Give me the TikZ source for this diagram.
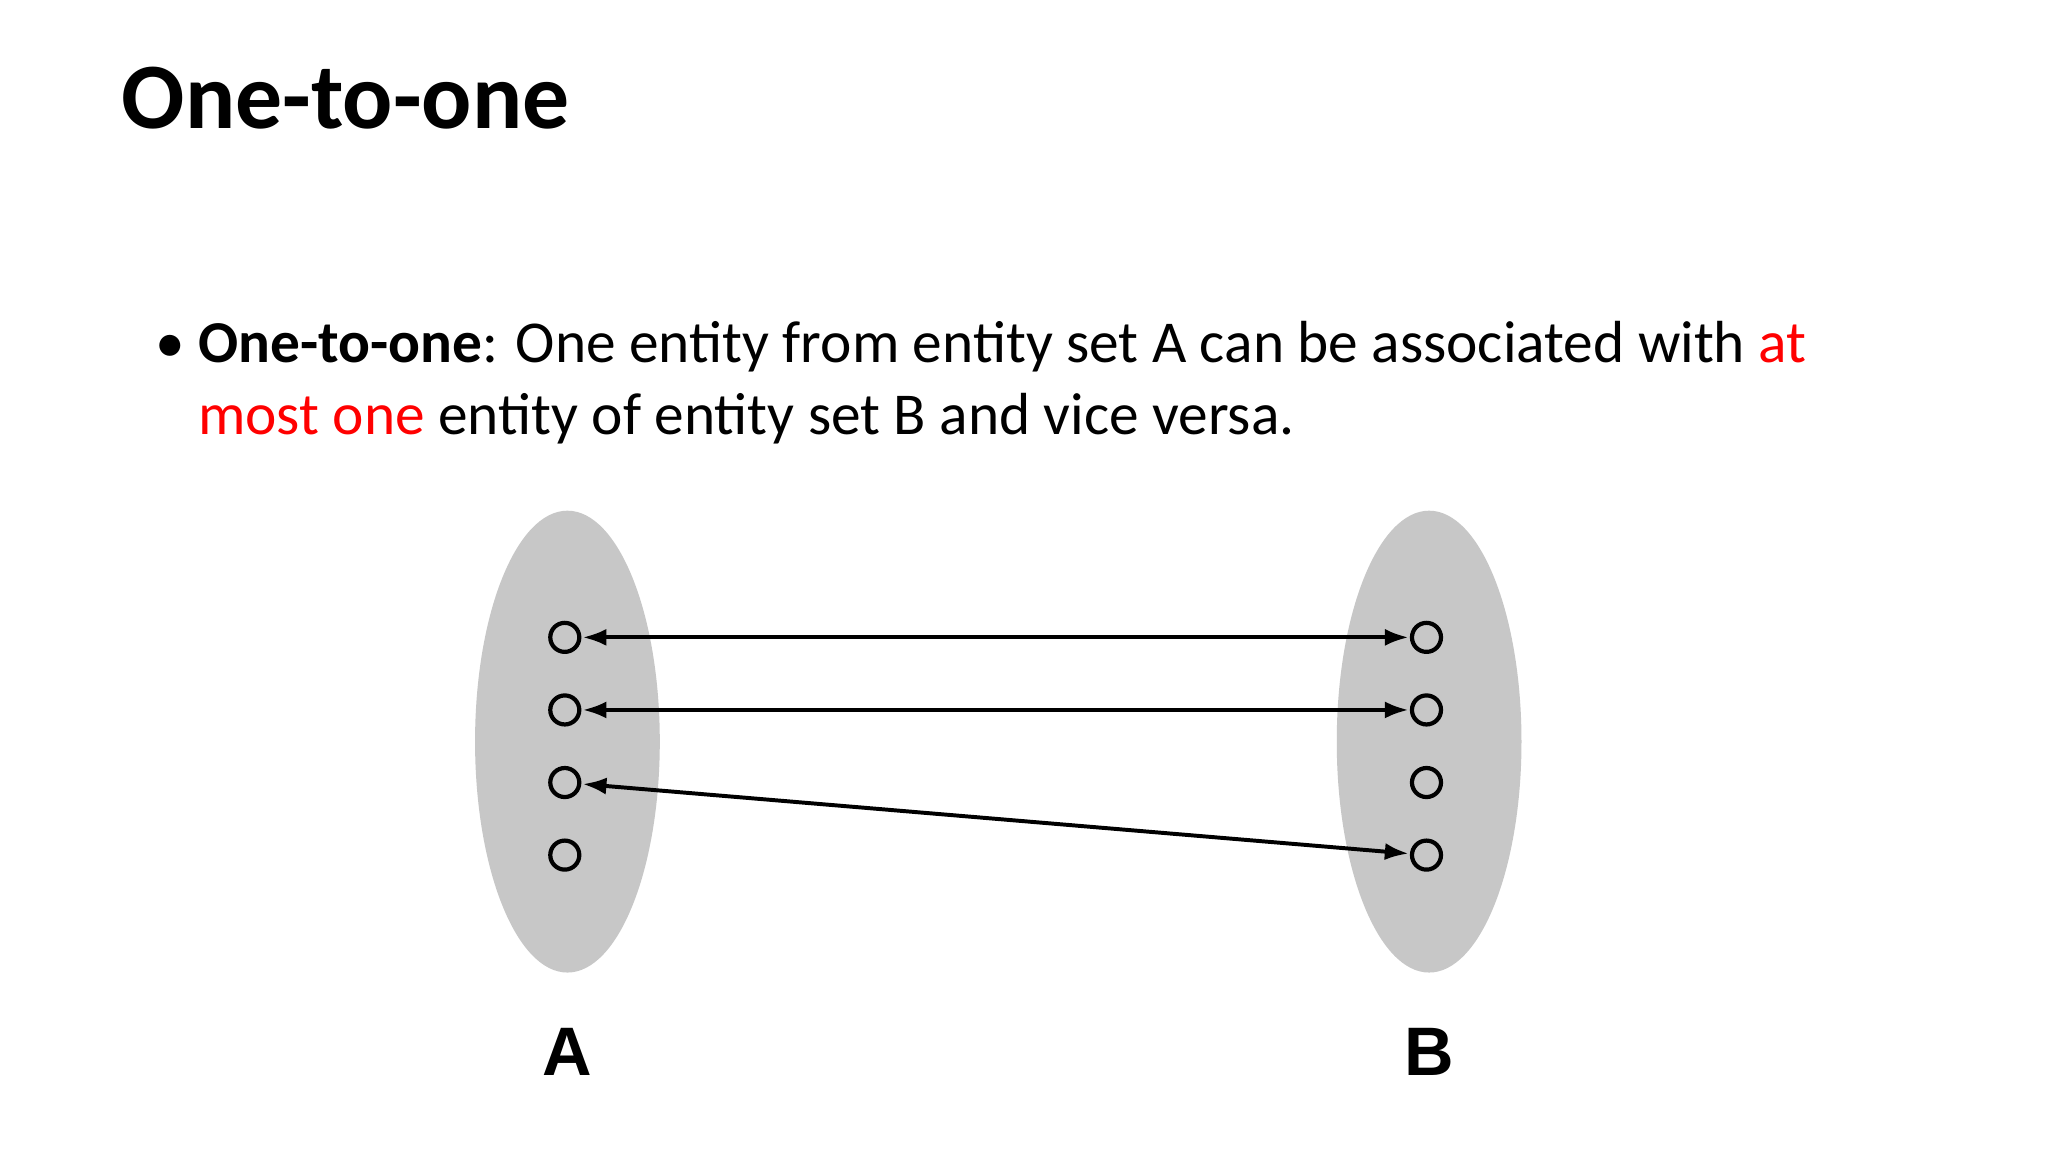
\documentclass[tikz,border=0pt]{standalone}
\usepackage{fontspec}
\setmainfont{Carlito}
\newfontfamily\labfont{Liberation Sans}
\usetikzlibrary{arrows.meta,shapes.geometric}
\begin{document}
\begin{tikzpicture}[x=1bp,y=-1bp,
  setell/.style={fill=black!22,draw=none},
  elem/.style={circle,draw=black,line width=3.2pt,minimum size=22bp,inner sep=0pt},
  link/.style={line width=3pt,{Latex[length=18bp,width=13bp]}-{Latex[length=18bp,width=13bp]},shorten <=1bp,shorten >=1bp}]
\useasboundingbox (0,0) rectangle (1552,873);
\fill[white] (0,0) rectangle (1552,873);
\node[anchor=base west,inner sep=0pt,font=\fontsize{71bp}{75bp}\selectfont\bfseries] (title) at (92,97) {One-to-one};
\node[anchor=base west,inner sep=0pt,font=\fontsize{45bp}{50bp}\selectfont] (bul) at (118,275) {•};
\node[anchor=base west,inner sep=0pt,font=\fontsize{45bp}{50bp}\selectfont] (l1) at (150,275) {\textbf{One-to-one}: One entity from entity set A can be associated with \textcolor{red}{at}};
\node[anchor=base west,inner sep=0pt,font=\fontsize{45bp}{50bp}\selectfont] (l2) at (150,329) {\textcolor{red}{most one} entity of entity set B and vice versa.};
\node[setell,ellipse,minimum width=140bp,minimum height=350bp] (EA) at (430,562) {};
\node[setell,ellipse,minimum width=140bp,minimum height=350bp] (EB) at (1083,562) {};
\foreach \i/\y in {1/483,2/538,3/593,4/648}{
  \node[elem] (a\i) at (428,\y) {};
  \node[elem] (b\i) at (1081,\y) {};
}
\draw[link] (a1) -- (b1);
\draw[link] (a2) -- (b2);
\draw[link] (a3) -- (b4);
\node[font=\labfont\bfseries\fontsize{52bp}{56bp}\selectfont] (LA) at (430,797) {A};
\node[font=\labfont\bfseries\fontsize{52bp}{56bp}\selectfont] (LB) at (1083,797) {B};
\end{tikzpicture}
\end{document}
